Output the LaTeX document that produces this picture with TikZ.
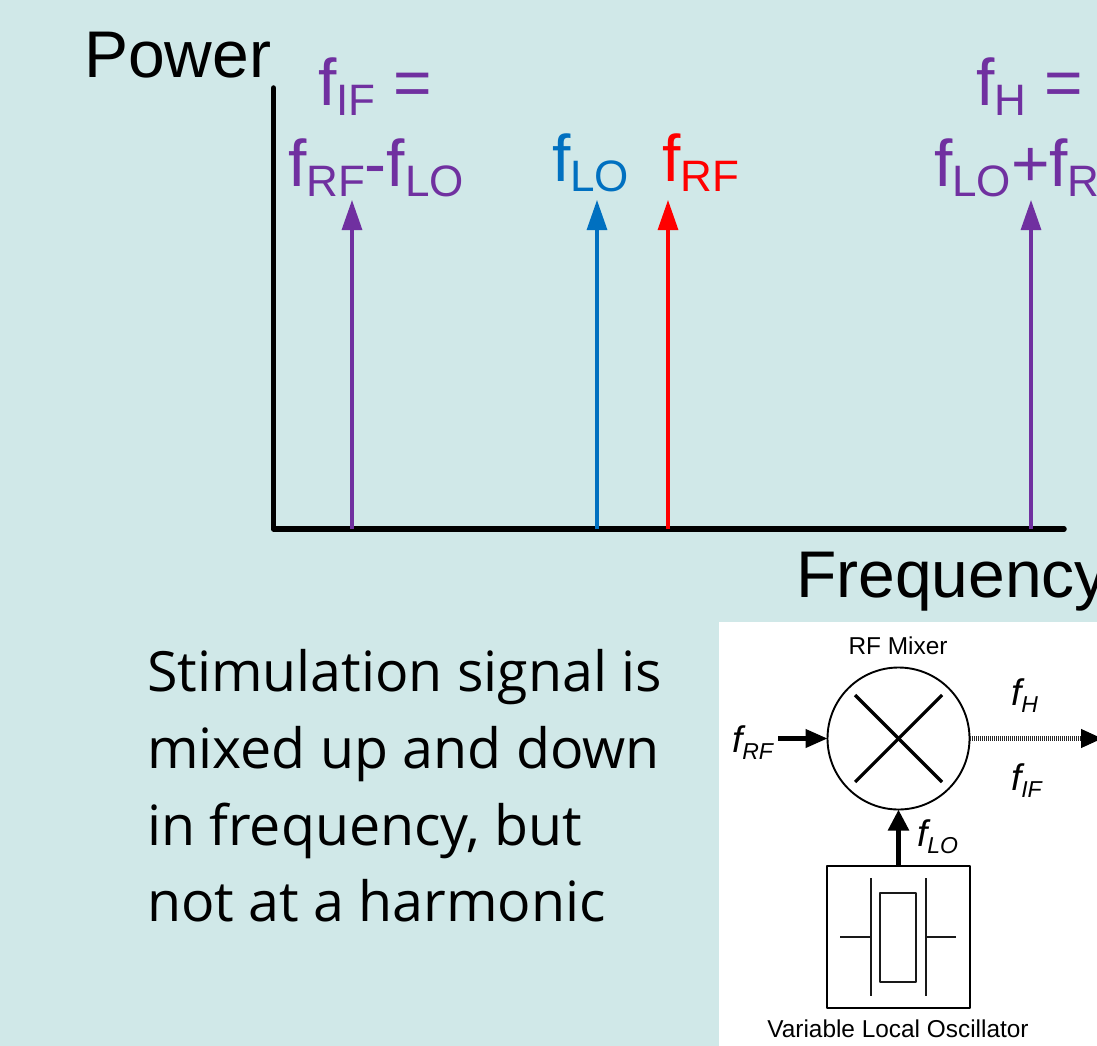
\documentclass[tikz,border=0pt]{standalone}
\usepackage{fontspec}
\setmainfont{Liberation Sans}
\newfontfamily\bodyfont{Open Sans}
\usetikzlibrary{arrows.meta}
\definecolor{bgteal}{RGB}{208,232,232}
\definecolor{ifpurple}{RGB}{112,48,160}
\definecolor{loblue}{RGB}{0,112,192}
\newcommand{\bigf}[2]{f\raisebox{-10pt}{\fontsize{44}{44}\selectfont #1}#2}
\newcommand{\smallf}[1]{\textit{f\raisebox{-7pt}{\fontsize{23}{23}\selectfont #1}}}
\tikzset{
	lbl/.style={anchor=base west,inner sep=0,outer sep=0,font=\fontsize{66}{66}\selectfont},
	bodytxt/.style={anchor=base west,inner sep=0,outer sep=0,font=\bodyfont\fontsize{55.5}{55.5}\selectfont},
	smalllbl/.style={anchor=base west,inner sep=0,outer sep=0,font=\fontsize{37}{37}\selectfont},
	caption/.style={anchor=base,inner sep=0,outer sep=0,font=\fontsize{24.4}{24.4}\selectfont},
	sigline/.style={line width=3.1pt,-{Triangle[length=30pt,width=20pt]}},
	partline/.style={line width=2.5pt,black!90},
}
\begin{document}
\begin{tikzpicture}[x=1pt,y=-1pt,line join=round]
	\useasboundingbox (0,0) rectangle (1097,1046);
	\clip (0,0) rectangle (1097,1046);
	\fill[bgteal] (0,0) rectangle (1097,1046);
	% spectrum
	\coordinate (ytop) at (273.5,88);
	\coordinate (orig) at (273.5,529);
	\coordinate (xend) at (1064,529);
	\draw[line width=5.5pt,line cap=round] (ytop)--(orig)--(xend);
	\node[lbl] (power) at (84,78) {Power};
	\node[lbl] (freq) at (796,597) {Frequency};
	\coordinate (ifb) at (352,529);
	\coordinate (ift) at (352,200);
	\coordinate (lob) at (597,529);
	\coordinate (lot) at (597,200);
	\coordinate (rfb) at (668,529);
	\coordinate (rft) at (668,200);
	\coordinate (hb) at (1031,529);
	\coordinate (ht) at (1031,200);
	\draw[sigline,ifpurple] (ifb)--(ift);
	\draw[sigline,loblue] (lob)--(lot);
	\draw[sigline,red] (rfb)--(rft);
	\draw[sigline,ifpurple] (hb)--(ht);
	\node[lbl,ifpurple] (iftop) at (318,106) {\bigf{IF}{ =}};
	\node[lbl,ifpurple] (iflow) at (288,186) {\bigf{RF}{-}\bigf{LO}{}};
	\node[lbl,loblue] (lolbl) at (552,181) {\bigf{LO}{}};
	\node[lbl,red] (rflbl) at (662,181) {\bigf{RF}{}};
	\node[lbl,ifpurple] (htop) at (976,106) {\bigf{H}{ =}};
	\node[lbl,ifpurple] (hlow) at (934,186) {\bigf{LO}{+}\bigf{RF}{}};
	% text
	\node[bodytxt] (line1) at (147,691) {Stimulation signal is};
	\node[bodytxt] (line2) at (147,768) {mixed up and down};
	\node[bodytxt] (line3) at (147,845) {in frequency, but};
	\node[bodytxt] (line4) at (147,921) {not at a harmonic};
	% mixer inset
	\fill[white] (719,622) rectangle (1097,1046);
	\node[draw,circle,line width=1.9pt,minimum size=142pt,inner sep=0,outer sep=0] (mixer) at (898.5,738.5) {};
	\node[draw,rectangle,line width=1.9pt,minimum width=143pt,minimum height=142pt,inner sep=0,outer sep=0] (osc) at (898.5,937) {};
	\node[draw,rectangle,partline,minimum width=36pt,minimum height=89pt,inner sep=0,outer sep=0] (xtal) at (898,937.5) {};
	\draw[line width=3.2pt] (855,695)--(942,782);
	\draw[line width=3.2pt] (942,695)--(855,782);
	\coordinate (pl1t) at (871,878);
	\coordinate (pl1b) at (871,996);
	\coordinate (pl2t) at (926,878);
	\coordinate (pl2b) at (926,996);
	\coordinate (ld1) at (840,937);
	\coordinate (ld1e) at (871,937);
	\coordinate (ld2) at (956,937);
	\coordinate (ld2e) at (926,937);
	\draw[partline] (pl1t)--(pl1b);
	\draw[partline] (pl2t)--(pl2b);
	\draw[partline] (ld1)--(ld1e);
	\draw[partline] (ld2)--(ld2e);
	\coordinate (rfin) at (778,738.5);
	\coordinate (outhead) at (1081,738.5);
	\coordinate (outend) at (1102,738.5);
	\draw[line width=4.2pt,-{Triangle[length=22pt,width=18pt]}] (rfin)--(mixer.west);
	\draw[line width=5.5pt,-{Triangle[length=21pt,width=20pt]}] (osc.north)--(mixer.south);
	\draw[line width=4.2pt,dash pattern=on 1.2pt off 0.8pt,black!85] (mixer.east)--(outhead);
	\draw[line width=1pt,-{Triangle[length=21pt,width=19pt]}] (outhead)--(outend);
	\node[caption] (mixlbl) at (898,654) {RF Mixer};
	\node[caption] (osclbl) at (898,1037) {Variable Local Oscillator};
	\node[smalllbl] (frflbl) at (732,752) {\smallf{RF}};
	\node[smalllbl] (fhlbl) at (1011,705) {\smallf{H}};
	\node[smalllbl] (fiflbl) at (1011,790) {\smallf{IF}};
	\node[smalllbl] (flolbl) at (917,846) {\smallf{LO}};
\end{tikzpicture}
\end{document}
